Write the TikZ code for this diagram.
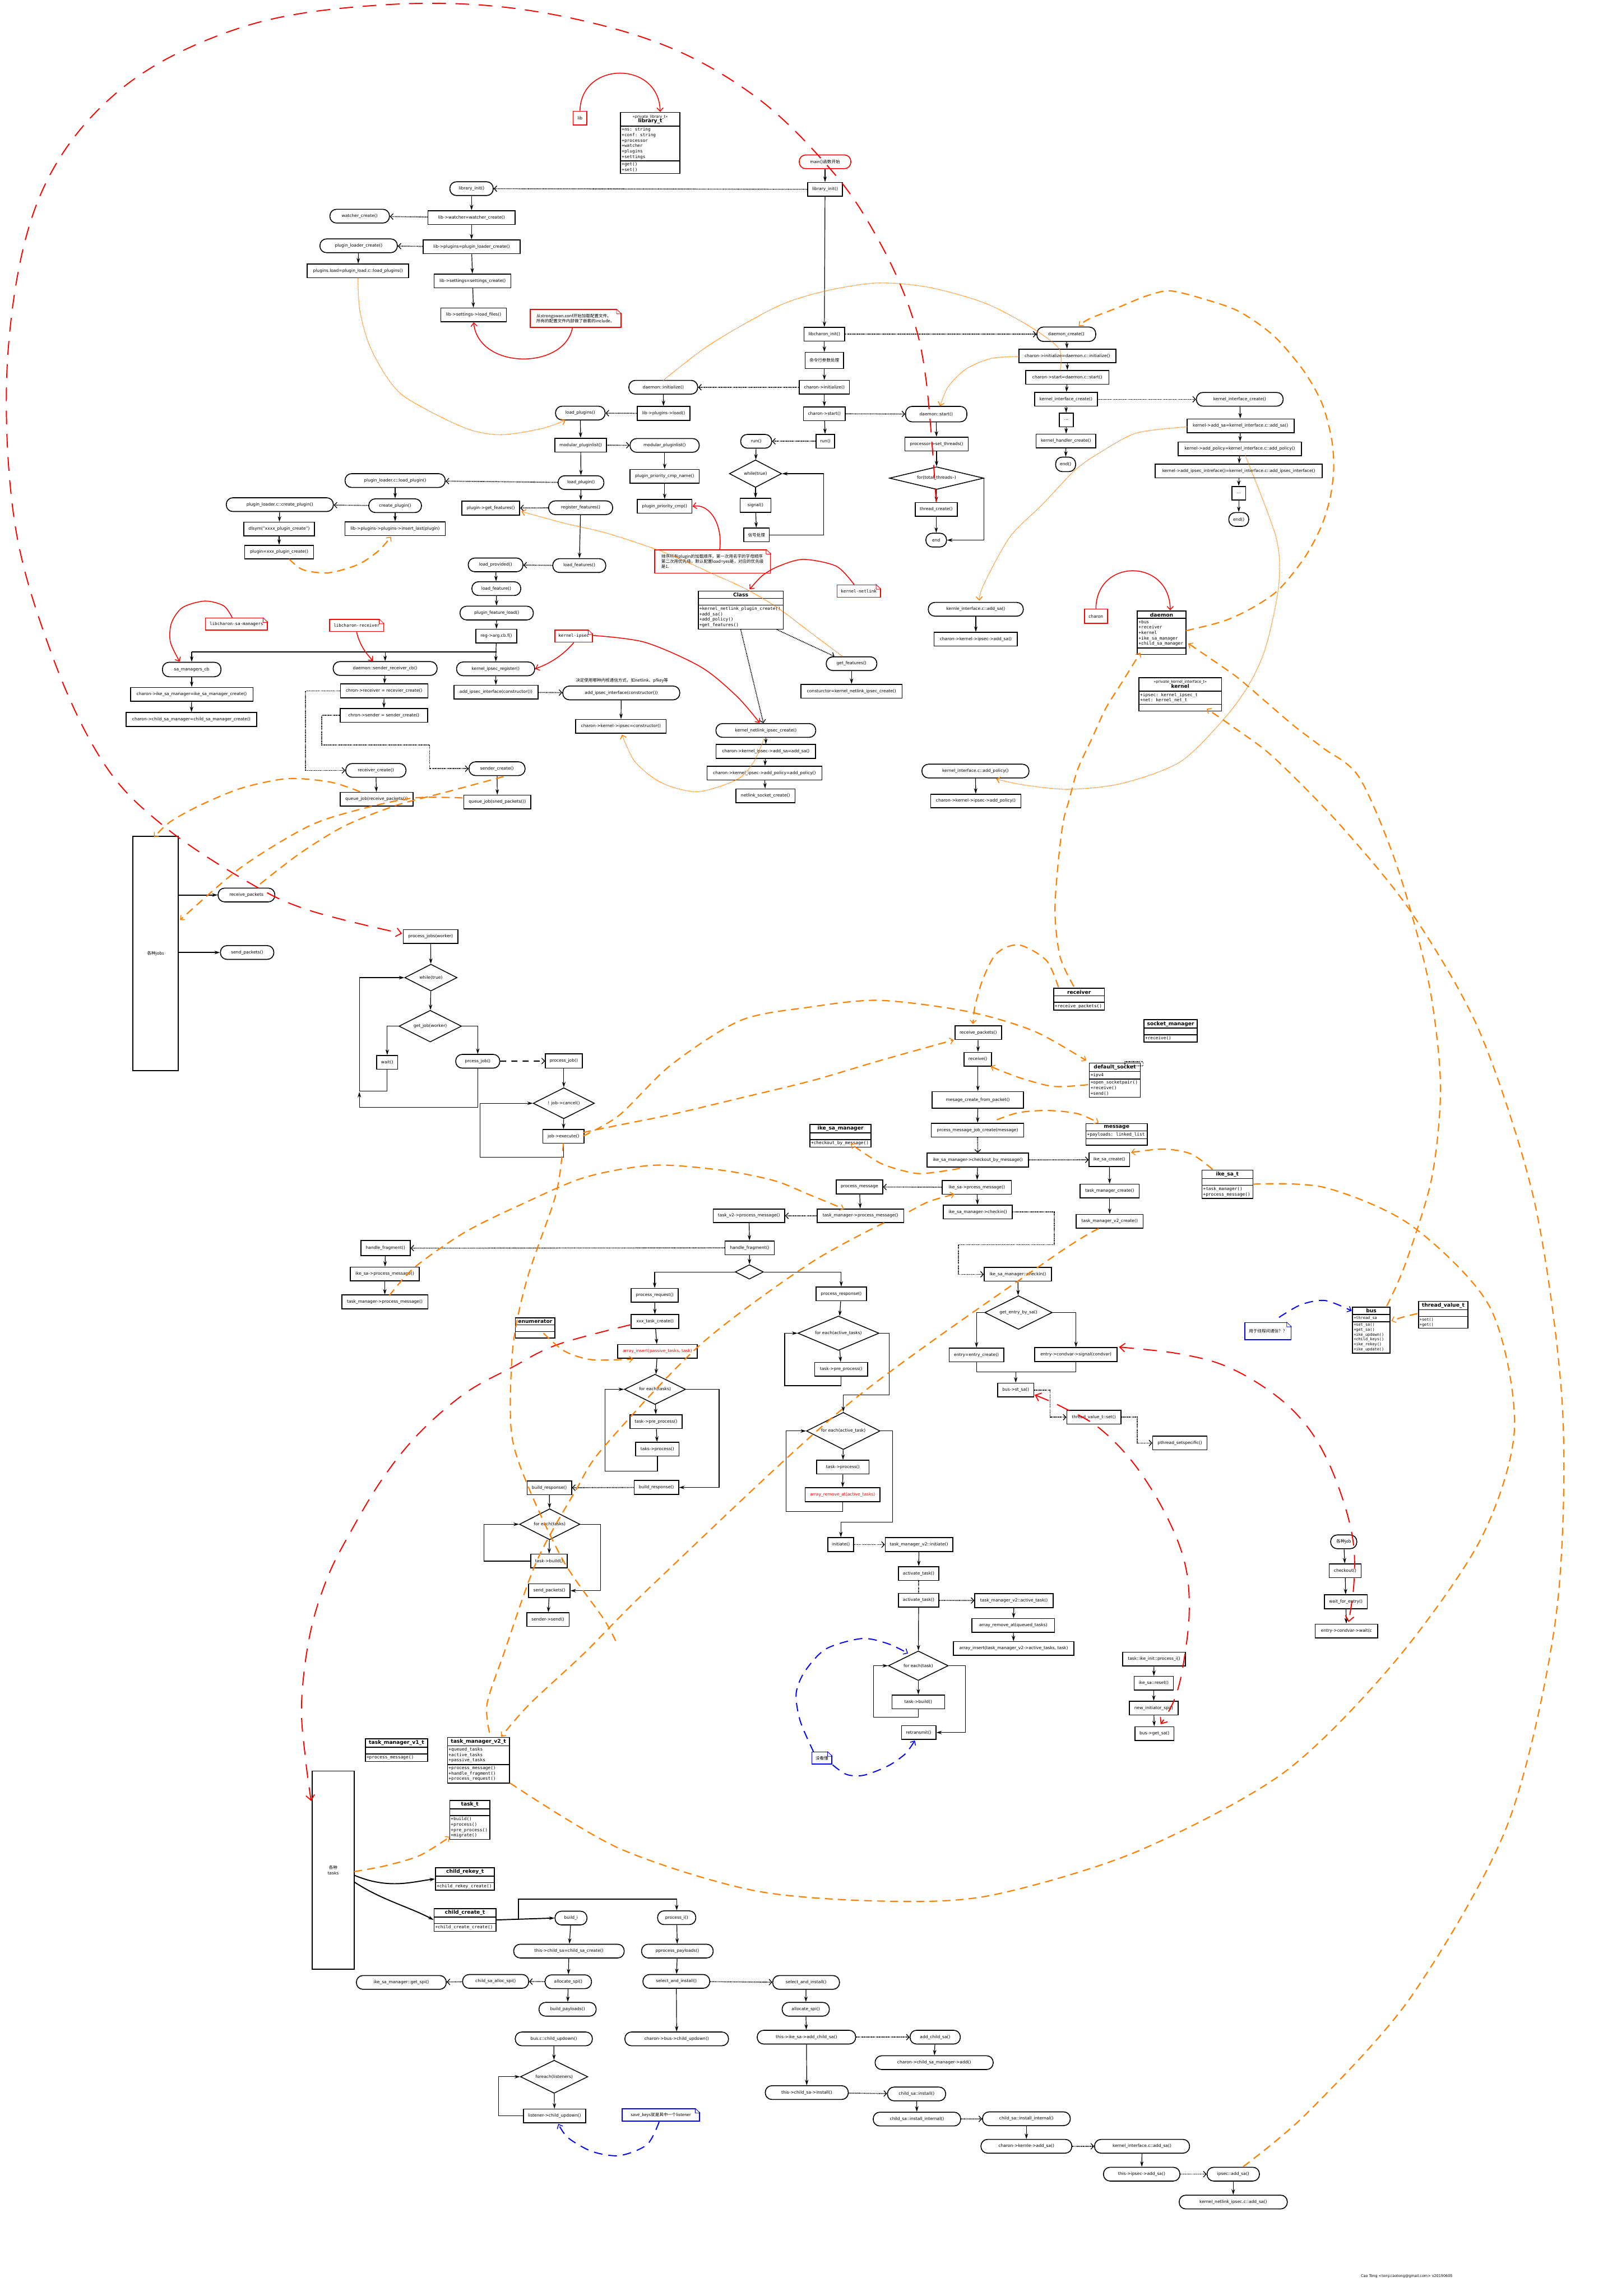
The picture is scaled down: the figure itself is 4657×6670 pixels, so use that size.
\documentclass[tikz,border=0pt]{standalone}
\usepackage{fontspec}
\setmainfont{DejaVu Sans}
\setmonofont{DejaVu Sans Mono}
\newfontfamily\cjkfont{Noto Sans CJK SC}
\usetikzlibrary{arrows.meta,shapes.geometric,shapes.multipart}

\newcommand{\boxfont}{\fontsize{7}{8.5}\selectfont}
\newcommand{\umlfont}{\ttfamily\fontsize{7.2}{9}\selectfont}
\newcommand{\umlhead}[1]{{\rmfamily\bfseries\fontsize{8.5}{10}\selectfont #1}}
\newcommand{\umlster}[2]{\begin{tabular}{@{}c@{}}{\rmfamily\fontsize{6.2}{7.5}\selectfont <<#1>>}\\[-1pt]\umlhead{#2}\end{tabular}}
\newcommand{\notefold}[2]{%
  \fill[white] ([xshift=-0.28cm]#1.north east) -- ([xshift=0.06cm,yshift=0.06cm]#1.north east) -- ([yshift=-0.28cm,xshift=0.06cm]#1.north east) -- cycle;
  \draw[#2, line width=0.8pt, line join=round] ([xshift=-0.28cm]#1.north east) -- ([yshift=-0.28cm]#1.north east) -- ([yshift=-0.28cm,xshift=-0.28cm]#1.north east) -- cycle;}

\tikzset{
  pbox/.style={draw, fill=white, line width=1.5pt, minimum height=0.8cm, inner sep=2pt, font=\boxfont},
  rbox/.style={pbox, rounded corners=0.38cm},
  wd/.style={minimum width=#1*0.02cm},
  hgt/.style={minimum height=#1*0.02cm},
  dia/.style n args={3}{diamond, draw, fill=white, line width=1.4pt, inner sep=0pt, font=\boxfont,
    minimum width=#1*0.04cm, minimum height=#2*0.04cm, aspect=#3},
  uml/.style={rectangle split, rectangle split parts=3, draw, fill=white, line width=1.5pt,
    inner sep=2pt, align=left, font=\umlfont, rectangle split part align={center,left,left}, anchor=north},
  rnote/.style={pbox, draw=red, align=left, font=\cjkfont\boxfont},
  bnote/.style={pbox, draw=blue, align=left, font=\cjkfont\boxfont},
  redsq/.style={pbox, draw=red},
  conn/.style={draw, line width=1.1pt},
  arr/.style={conn, -{Stealth[length=0.32cm, width=0.2cm]}},
  darr/.style={draw, line width=1.5pt, densely dotted, -{Straight Barb[length=0.16cm, width=0.34cm, line width=1.2pt]}},
  dasharr/.style={draw, line width=2pt, dash pattern=on 0.35cm off 0.3cm, -{Straight Barb[length=0.16cm, width=0.34cm, line width=1.2pt]}},
  otip/.style={-{Straight Barb[length=0.2cm, width=0.36cm, line width=1.3pt]}},
  odash/.style={draw=orange, line width=2pt, dash pattern=on 0.46cm off 0.3cm},
  odot/.style={draw=orange, line width=1.2pt, densely dotted},
  rline/.style={draw=red, line width=1.4pt, -{Straight Barb[length=0.2cm, width=0.36cm, line width=1.3pt]}},
  rdash/.style={draw=red, line width=1.8pt, dash pattern=on 0.8cm off 0.55cm},
  bdash/.style={draw=blue, line width=1.8pt, dash pattern=on 0.5cm off 0.35cm},
}

\begin{document}
\begin{tikzpicture}[x=0.02cm, y=-0.02cm, >=Stealth]
\useasboundingbox (0,0) rectangle (4657,6670);

% Library initialisation
\node[redsq, wd=40] (lib) at (1685,343) {lib};
\node[uml, wd=172] (libt) at (1889,325) {\umlster{private\_library\_t}{library\_t}
  \nodepart{second}+ns: string\\+conf: string\\+processor\\+watcher\\+plugins\\+settings
  \nodepart{third}+get()\\+set()};
\node[rbox, draw=red, wd=150, font=\cjkfont\boxfont] (mainfn) at (2397,470) {main()函数开始};
\node[pbox, wd=101] (libinitb) at (2397,550) {library\_init()};
\node[rbox, wd=126] (libinit) at (1370,548) {library\_init()};
\node[pbox, wd=254] (watcherset) at (1370,632) {lib->watcher=watcher\_create()};
\node[rbox, wd=173] (watchercr) at (1045,628) {watcher\_create()};
\node[pbox, wd=282] (pluginsset) at (1370,717) {lib->plugins=plugin\_loader\_create()};
\node[rbox, wd=225] (loadercr) at (1042,714) {plugin\_loader\_create()};
\node[pbox, wd=295] (pluginsload) at (1040,787) {plugins.load=plugin\_load.c::load\_plugins()};
\node[pbox, wd=223] (settingsset) at (1373,816) {lib->settings=settings\_create()};
\node[pbox, wd=190] (loadfiles) at (1376,915) {lib->settings->load\_files()};
\node[rnote, wd=264, hgt=52] (confnote) at (1672,925) {从strongswan.conf开始加载配置文件。\\所有的配置文件内部做了嵌套的include。};

% libcharon and daemon
\node[pbox, wd=118] (charoninit) at (2395,971) {libcharon\_init()};
\node[pbox, wd=112, hgt=47, font=\cjkfont\boxfont] (cmdline) at (2395,1047) {命令行参数处理};
\node[pbox, wd=146] (charoninitz) at (2395,1125) {charon->initialize()};
\node[pbox, wd=122] (charonstart) at (2395,1202) {charon->start()};
\node[pbox, wd=54] (runb) at (2398,1282) {run()};
\node[rbox, wd=90] (runr) at (2197,1282) {run()};
\node[dia={76}{40}{1.9}] (whiletrue) at (2195,1376) {while(true)};
\node[pbox, wd=90] (signal) at (2195,1468) {signal()};
\node[pbox, wd=74, font=\cjkfont\boxfont] (sighandle) at (2198,1554) {信号处理};
\node[rbox, wd=200] (daemoninit) at (1927,1125) {daemon::initialize()};
\node[rbox, wd=178, hgt=45] (daemonstart) at (2720,1203) {daemon::start()};
\node[pbox, wd=184] (setthreads) at (2721,1290) {processor->set\_threads()};
\node[dia={137}{33}{4.15}] (threadloop) at (2721,1389) {for(total\_threads--)};
\node[pbox, wd=122] (threadcr) at (2720,1480) {thread\_create()};
\node[rbox, wd=60] (threadend) at (2720,1569) {end};
\node[rbox, wd=171, hgt=42] (daemoncr) at (3098,971) {daemon\_create()};
\node[pbox, wd=282] (initset) at (3101,1034) {charon->initialize=daemon.c::initialize()};
\node[pbox, wd=242] (startset) at (3101,1096) {charon->start=daemon.c::start()};
\node[pbox, wd=182] (kifcrb) at (3097,1160) {kernel\_interface\_create()};
\node[pbox, wd=40] (dotsa) at (3098,1220) {...};
\node[pbox, wd=174] (khandler) at (3097,1281) {kernel\_handler\_create()};
\node[rbox, wd=58, hgt=42] (enda) at (3096,1349) {end()};
\node[rbox, wd=252] (kifcr) at (3602,1160) {kernel\_interface\_create()};
\node[pbox, wd=311] (addsaset) at (3604,1237) {kernel->add\_sa=kernel\_interface.c::add\_sa()};
\node[pbox, wd=358] (addpolset) at (3602,1304) {kernel->add\_policy=kernel\_interface.c::add\_policy()};
\node[pbox, wd=485] (addifset) at (3599,1368) {kernel->add\_ipsec\_intreface()=kernel\_interface.c::add\_ipsec\_interface()};
\node[pbox, wd=40] (dotsb) at (3599,1433) {...};
\node[rbox, wd=58] (endb) at (3599,1509) {end()};

% Plugin loading
\node[pbox, wd=153] (pluginsld) at (1928,1201) {lib->plugins->load()};
\node[rbox, wd=144] (loadplugins) at (1686,1200) {load\_plugins()};
\node[pbox, wd=149] (modlistb) at (1687,1293) {modular\_pluginlist()};
\node[rbox, wd=201] (modlist) at (1931,1294) {modular\_pluginlist()};
\node[pbox, wd=201] (prioname) at (1931,1384) {plugin\_priority\_cmp\_name()};
\node[pbox, wd=159] (priocmp) at (1931,1471) {plugin\_priority\_cmp()};
\node[rbox, wd=133] (loadplugin) at (1688,1402) {load\_plugin()};
\node[rbox, wd=291] (loaderload) at (1148,1396) {plugin\_loader.c::load\_plugin()};
\node[rbox, wd=153] (createplugin) at (1148,1469) {create\_plugin()};
\node[rbox, wd=311] (loadercreate) at (813,1466) {plugin\_loader.c::create\_plugin()};
\node[pbox, wd=205] (dlsym) at (811,1537) {dlsym("xxxx\_plugin\_create")};
\node[pbox, wd=200] (plugincr) at (811,1604) {plugin=xxx\_plugin\_create()};
\node[pbox, wd=291] (insertlast) at (1148,1536) {lib->plugins->plugins->insert\_last(plugin)};
\node[rbox, wd=186] (regfeat) at (1687,1475) {register\_features()};
\node[pbox, wd=168] (getfeatb) at (1426,1476) {plugin->get\_features()};
\node[rbox, wd=154] (loadfeats) at (1683,1643) {load\_features()};
\node[rbox, wd=159] (loadprov) at (1440,1641) {load\_provided()};
\node[rbox, wd=142] (loadfeat) at (1442,1710) {load\_feature()};
\node[rbox, wd=213] (featload) at (1443,1781) {plugin\_feature\_load()};
\node[pbox, wd=118] (regcb) at (1442,1848) {reg->arg.cb.f()};
\node[rnote, wd=337, hgt=68] (sortnote) at (2070,1631) {排序所有plugin的加载顺序，第一次用名字的字母顺序\\第二次用优先级，默认配置load=yes是，对应的优先级\\是1.};

% Kernel ipsec
\node[rbox, wd=227] (kipsecreg) at (1440,1943) {kernel\_ipsec\_register()};
\node[pbox, wd=244] (addipsecb) at (1441,2011) {add\_ipsec\_interface(constructor())};
\node[rbox, wd=340] (addipsec) at (1805,2013) {add\_ipsec\_interface(constructor())};
\node[font=\cjkfont\boxfont] (kcomment) at (1807,1977) {决定使用哪种内核通信方式，如netlink、pfkey等};
\node[pbox, wd=263] (ipsecset) at (1804,2110) {charon->kernel->ipsec=constructor()};
\node[rnote, wd=109, hgt=35, font=\ttfamily\boxfont] (kipsecnote) at (1667,1848) {kernel-ipsec};
\node[uml, wd=247] (classbox) at (2152,1716) {\umlhead{Class}
  \nodepart{second}
  \nodepart{third}+kernel\_netlink\_plugin\_create()\\+add\_sa()\\+add\_policy()\\+get\_features()};
\node[rnote, wd=126, hgt=36, font=\ttfamily\boxfont] (knetnote) at (2495,1717) {kernel-netlink};
\node[rbox, wd=147] (getfeat) at (2474,1928) {get\_features()};
\node[pbox, wd=294] (ctorset) at (2474,2008) {consturctor=kernel\_netlink\_ipsec\_create()};
\node[rbox, wd=290] (knlcreate) at (2225,2122) {kernel\_netlink\_ipsec\_create()};
\node[pbox, wd=289] (knladdsa) at (2225,2183) {charon->kernel\_ipsec->add\_sa=add\_sa()};
\node[pbox, wd=334] (knladdpol) at (2221,2246) {charon->kernel\_ipsec->add\_policy=add\_policy()};
\node[pbox, wd=172] (nlsock) at (2224,2312) {netlink\_socket\_create()};

% SA managers, sender and receiver
\node[rnote, wd=180, hgt=35, font=\ttfamily\boxfont] (samgrnote) at (687,1813) {libcharon-sa-managers};
\node[rnote, wd=157, hgt=35, font=\ttfamily\boxfont] (recvnote) at (1036,1817) {libcharon-receiver};
\node[rbox, wd=170, hgt=42] (samgrcb) at (557,1945) {sa\_managers\_cb};
\node[pbox, wd=356] (ikemgrset) at (557,2017) {charon->ike\_sa\_manager=ike\_sa\_manager\_create()};
\node[pbox, wd=380] (childmgrset) at (556,2090) {charon->child\_sa\_manager=child\_sa\_manager\_create()};
\node[rbox, wd=302] (srcb) at (1119,1942) {daemon::sender\_receiver\_cb()};
\node[pbox, wd=254] (recvset) at (1116,2007) {chron->receiver = recevier\_create()};
\node[pbox, wd=254] (sendset) at (1115,2078) {chron->sender = sender\_create()};
\node[rbox, wd=175] (recvcr) at (1092,2238) {receiver\_create()};
\node[pbox, wd=212] (qrecv) at (1094,2322) {queue\_job(receive\_packets())};
\node[rbox, wd=163] (sendcr) at (1444,2233) {sender\_create()};
\node[pbox, wd=195] (qsend) at (1445,2330) {queue\_job(sned\_packets())};

% Kernel interface and daemon class
\node[rbox, wd=276] (kaddsa) at (2835,1770) {kernle\_interface.c::add\_sa()};
\node[pbox, wd=242] (kipsecaddsa) at (2835,1857) {charon->kernel->ipsec->add\_sa()};
\node[redsq, wd=67, hgt=41] (charonbox) at (3184,1790) {charon};
\node[uml, wd=141] (daemonc) at (3375,1774) {\umlhead{daemon}
  \nodepart{second}+bus\\+receiver\\+kernel\\+ike\_sa\_manager\\+child\_sa\_manager
  \nodepart{third}};
\node[uml, wd=240] (kernelc) at (3429,1967) {\umlster{private\_kernel\_interface\_t}{kernel}
  \nodepart{second}+ipsec: kernel\_ipsec\_t\\+net: kernel\_net\_t
  \nodepart{third}};
\node[rbox, wd=311] (kaddpol) at (2834,2240) {kernel\_interface.c::add\_policy()};
\node[pbox, wd=262] (kipsecaddpol) at (2835,2327) {charon->kernel->ipsec->add\_policy()};

% Jobs and worker threads
\node[pbox, wd=132, hgt=680, font=\cjkfont\boxfont] (jobs) at (452,2770) {各种jobs};
\node[rbox, wd=165] (recvpk) at (716,2600) {receive\_packets};
\node[rbox, wd=155] (sendpk) at (718,2767) {send\_packets()};
\node[pbox, wd=159] (procjobs) at (1251,2721) {process\_jobs(worker)};
\node[dia={76}{39}{1.95}] (whilejob) at (1252,2840) {while(true)};
\node[dia={91}{46}{1.98}] (getjob) at (1250,2981) {get\_job(worker)};
\node[pbox, wd=61] (waitb) at (1125,3086) {wait()};
\node[rbox, wd=128] (prcjob) at (1388,3083) {prcess\_job()};
\node[pbox, wd=107, hgt=42] (procjob) at (1638,3082) {process\_job()};
\node[dia={89}{45}{1.98}] (cancel) at (1638,3205) {! job->cancel()};
\node[pbox, wd=120] (execute) at (1637,3301) {job->execute()};

% Receiving a message
\node[uml, wd=148] (recvc) at (3135,2870) {\umlhead{receiver}\nodepart{second}\nodepart{third}+receive\_packets()};
\node[uml, wd=155] (sockmgr) at (3401,2961) {\umlhead{socket\_manager}\nodepart{second}\nodepart{third}+receive()};
\node[pbox, wd=135] (recvpkb) at (2842,3000) {receive\_packets()};
\node[pbox, wd=80] (recvb) at (2841,3077) {receive()};
\node[pbox, wd=265, hgt=48] (msgcr) at (2841,3195) {mesage\_create\_from\_packet()};
\node[pbox, wd=269] (msgjob) at (2840,3283) {prcess\_message\_job\_create(message)};
\node[pbox, wd=295] (checkout) at (2841,3370) {ike\_sa\_manager->checkout\_by\_message()};
\node[pbox, wd=118] (ikesacr) at (3223,3369) {ike\_sa\_create()};
\node[pbox, wd=172] (tmcr) at (3224,3460) {task\_manager\_create()};
\node[pbox, wd=194] (tmv2cr) at (3224,3548) {task\_manager\_v2\_create()};
\node[pbox, wd=201] (ikesaproc) at (2838,3449) {ike\_sa->prcess\_message()};
\node[pbox, wd=135] (procmsg) at (2497,3448) {process\_message};
\node[pbox, wd=251] (tmproc) at (2500,3532) {task\_manager->process\_message()};
\node[pbox, wd=200] (checkin) at (2841,3521) {ike\_sa\_manager->checkin()};
\node[pbox, wd=195] (checkinb) at (2957,3702) {ike\_sa\_manager::checkin()};
\node[uml, wd=178] (ikemgrc) at (2442,3265) {\umlhead{ike\_sa\_manager}\nodepart{second}\nodepart{third}+checkout\_by\_message()};
\node[uml, wd=148] (dsock) at (3239,3087) {\umlhead{default\_socket}\nodepart{second}+ipv4\nodepart{third}+open\_socketpair()\\+receive()\\+send()};
\node[uml, wd=178] (msgc) at (3244,3263) {\umlhead{message}\nodepart{second}+payloads: linked\_list\nodepart{third}};
\node[uml, wd=148] (ikesat) at (3566,3398) {\umlhead{ike\_sa\_t}\nodepart{second}\nodepart{third}+task\_manager()\\+process\_message()};
\draw[line width=1.2pt, densely dotted] (3268,3084) rectangle (3321,3096);

% Task processing
\node[pbox, wd=208] (taskv2proc) at (2176,3532) {task\_v2->process\_message()};
\node[pbox, wd=143] (fragb) at (2178,3625) {handle\_fragment()};
\node[pbox, wd=143, hgt=44] (frag) at (1120,3626) {handle\_fragment()};
\node[pbox, wd=201] (ikesaproc2) at (1118,3701) {ike\_sa->process\_message()};
\node[pbox, wd=250] (tmproc2) at (1118,3782) {task\_manager->process\_message()};
\node[dia={41}{21}{1.95}] (reqresp) at (2177,3695) {};
\node[pbox, wd=136] (procreq) at (1902,3763) {process\_request()};
\node[pbox, wd=138] (xxxcr) at (1903,3839) {xxx\_task\_create()};
\node[pbox, wd=231, text=red] (passins) at (1910,3926) {array\_insert(passive\_tasks, task)};
\node[dia={89}{44}{2}] (foreacht) at (1903,4036) {for each(tasks)};
\node[pbox, wd=152] (preproc) at (1906,4130) {task->pre\_process()};
\node[pbox, wd=126] (taksproc) at (1910,4210) {taks->process()};
\node[pbox, wd=129] (buildresp) at (1907,4321) {build\_response()};
\node[pbox, wd=129] (buildrespb) at (1596,4322) {build\_response()};
\node[dia={88}{45}{1.96}] (foreachb) at (1597,4428) {for each(tasks)};
\node[pbox, wd=106] (taskbuild) at (1595,4535) {task->build()};
\node[pbox, wd=120] (sendpkb) at (1596,4621) {send\_packets()};
\node[pbox, wd=123] (sendersend) at (1592,4705) {sender->send()};
\node[uml, wd=115] (enumc) at (1555,3827) {\umlhead{enumerator}\nodepart{second}\nodepart{third}};
\node[pbox, wd=147] (procresp) at (2444,3759) {process\_response()};
\node[dia={118}{50}{2.36}] (foreachact) at (2436,3873) {for each(active\_tasks)};
\node[pbox, wd=154] (preprocb) at (2444,3978) {task->pre\_process()};
\node[dia={107}{54}{1.98}] (foreachact2) at (2450,4157) {for each(active\_task)};
\node[pbox, wd=152] (taskproc) at (2449,4262) {task->process()};
\node[pbox, wd=218, text=red] (actremove) at (2448,4342) {array\_remove\_at(active\_tasks)};
\node[pbox, wd=75] (initiate) at (2443,4487) {initiate()};
\node[pbox, wd=196] (tminit) at (2670,4487) {task\_manager\_v2::initiate()};
\node[pbox, wd=118] (acttask) at (2669,4571) {activate\_task()};
\node[pbox, wd=118] (acttaskb) at (2669,4649) {activate\_task()};
\node[pbox, wd=228] (tmact) at (2946,4650) {task\_manager\_v2::active\_task()};
\node[pbox, wd=240] (qremove) at (2944,4722) {array\_remove\_at(queued\_tasks)};
\node[pbox, wd=350] (actinsert) at (2945,4789) {array\_insert(task\_manager\_v2->active\_tasks, task)};
\node[dia={87}{43}{2.02}] (foreachtask) at (2668,4839) {for each(task)};
\node[pbox, wd=153] (taskbuildb) at (2668,4944) {task->build()};
\node[pbox, wd=100] (retrans) at (2669,5033) {retransmit()};
\node[bnote, wd=58, hgt=35] (dontget) at (2388,5107) {没看懂};

% Check in and the bus
\node[dia={98}{49}{2}] (getentry) at (2959,3813) {get\_entry\_by\_sa()};
\node[pbox, wd=159] (entrycr) at (2837,3936) {entry=entry\_create()};
\node[pbox, wd=239] (entrysig) at (3126,3935) {entry->condvar->signal(condvar)};
\node[pbox, wd=105] (busset) at (2951,4038) {bus->st\_sa()};
\node[pbox, wd=157] (tvset) at (3178,4117) {thread\_value\_t::set()};
\node[pbox, wd=158] (pthreadset) at (3428,4192) {pthread\_setspecific()};
\node[uml, wd=109, font=\ttfamily\fontsize{6.4}{8}\selectfont] (busc) at (3984,3796) {\umlhead{bus}
  \nodepart{second}+thread\_sa
  \nodepart{third}+set\_sa()\\+get\_sa()\\+ike\_updown()\\+child\_keys()\\+ike\_rekey()\\+ike\_update()};
\node[uml, wd=144, font=\ttfamily\fontsize{6.4}{8}\selectfont] (tvc) at (4193,3779) {\umlhead{thread\_value\_t}\nodepart{second}\nodepart{third}+set()\\+get()};
\node[bnote, wd=134, hgt=50] (threadnote) at (3684,3867) {用于线程间通信？？};
\node[rbox, wd=76, font=\cjkfont\boxfont] (anyjob) at (3904,4479) {各种job};
\node[pbox, wd=93] (checkoutb) at (3908,4563) {checkout()};
\node[pbox, wd=125] (waitentry) at (3910,4653) {wait\_for\_entry()};
\node[pbox, wd=182] (condwait) at (3912,4738) {entry->condvar->wait(c};
\node[pbox, wd=183] (ikeinit) at (3353,4820) {task::ike\_init::process\_i()};
\node[pbox, wd=114] (ikereset) at (3352,4890) {ike\_sa::reset()};
\node[pbox, wd=142] (newspi) at (3352,4962) {new\_initiator\_spi()};
\node[pbox, wd=113] (busget) at (3354,5036) {bus->get\_sa()};

% Task classes and child SA creation
\node[uml, wd=181] (tmv1c) at (1152,5050) {\umlhead{task\_manager\_v1\_t}\nodepart{second}\nodepart{third}+process\_message()};
\node[uml, wd=180] (tmv2c) at (1390,5046) {\umlhead{task\_manager\_v2\_t}
  \nodepart{second}+queued\_tasks\\+active\_tasks\\+passive\_tasks
  \nodepart{third}+process\_message()\\+handle\_fragment()\\+process\_request()};
\node[uml, wd=117] (taskc) at (1365,5229) {\umlhead{task\_t}\nodepart{second}\nodepart{third}+build()\\+process()\\+pre\_process()\\+migrate()};
\node[pbox, wd=122, hgt=576, align=center] (tasks) at (968,5433) {{\cjkfont 各种}\\tasks};
\node[uml, wd=171] (rekeyc) at (1351,5424) {\umlhead{child\_rekey\_t}\nodepart{second}\nodepart{third}+child\_rekey\_create()};
\node[uml, wd=180] (createc) at (1351,5543) {\umlhead{child\_create\_t}\nodepart{second}\nodepart{third}+child\_create\_create()};
\node[rbox, wd=93] (buildi) at (1659,5572) {build\_i};
\node[rbox, wd=111] (processi) at (1966,5571) {process\_i()};
\node[rbox, wd=321] (childsacr) at (1653,5668) {this->child\_sa=child\_sa\_create()};
\node[rbox, wd=208] (procpay) at (1968,5668) {pprocess\_payloads()};
\node[rbox, wd=135] (allocspi) at (1651,5757) {allocate\_spi()};
\node[rbox, wd=192] (allocspib) at (1440,5756) {child\_sa\_alloc\_spi()};
\node[rbox, wd=261] (getspi) at (1166,5759) {ike\_sa\_manager::get\_spi()};
\node[rbox, wd=166] (buildpay) at (1649,5837) {build\_payloads()};
\node[rbox, wd=194] (selinst) at (1965,5756) {select\_and\_install()};
\node[rbox, wd=194] (selinstb) at (2342,5759) {select\_and\_install()};
\node[rbox, wd=301] (busupdown) at (1966,5923) {charon->bus->child\_updown()};
\node[rbox, wd=224] (busupdownb) at (1609,5923) {bus.c::child\_updown()};
\node[dia={98}{48}{2.04}] (listeners) at (1610,6033) {foreach(listeners)};
\node[pbox, wd=181] (listenerup) at (1611,6147) {listener->child\_updown()};
\node[bnote, wd=225, hgt=36] (savekeys) at (1920,6144) {save\_keys就是其中一个listener};
\node[rbox, wd=137] (allocspic) at (2341,5837) {allocate\_spi()};
\node[rbox, wd=286] (addchild) at (2343,5918) {this->ike\_sa->add\_child\_sa()};
\node[rbox, wd=146] (addchildb) at (2717,5918) {add\_child\_sa()};
\node[rbox, wd=343] (childmgradd) at (2714,5992) {charon->child\_sa\_manager->add()};
\node[rbox, wd=241] (install) at (2344,6079) {this->child\_sa->install()};
\node[rbox, wd=169] (installb) at (2663,6083) {child\_sa::install()};
\node[rbox, wd=254] (instint) at (2664,6156) {child\_sa::install\_internal()};
\node[rbox, wd=255] (instintb) at (2982,6155) {child\_sa::install\_internal()};
\node[rbox, wd=264] (kernleaddsa) at (2982,6235) {charon->kernle->add\_sa()};
\node[rbox, wd=276] (kifaddsa) at (3318,6235) {kernel\_interface.c::add\_sa()};
\node[rbox, wd=222] (ipsecaddsa) at (3317,6316) {this->ipsec->add\_sa()};
\node[rbox, wd=152] (ipsecaddsab) at (3583,6316) {ipsec::add\_sa()};
\node[rbox, wd=314] (knladd) at (3583,6397) {kernel\_netlink\_ipsec.c::add\_sa()};
\node[font=\fontsize{6}{7}\selectfont] (footer) at (4087,6613) {Cao Tong <tony.caotong@gmail.com> v20190605};

% Note corners
\notefold{confnote}{red}
\notefold{sortnote}{red}
\notefold{kipsecnote}{red}
\notefold{knetnote}{red}
\notefold{samgrnote}{red}
\notefold{recvnote}{red}
\notefold{threadnote}{blue}
\notefold{dontget}{blue}
\notefold{savekeys}{blue}

% Lines: start-up
\draw[arr] (mainfn) -- (libinitb);
\draw[darr] (libinitb) -- (libinit);
\draw[arr] (libinit) -- (watcherset);
\draw[darr] (watcherset) -- (watchercr);
\draw[arr] (watcherset) -- (pluginsset);
\draw[darr] (pluginsset) -- (loadercr);
\draw[arr] (loadercr) -- (pluginsload);
\draw[arr] (pluginsset) -- (settingsset);
\draw[arr] (settingsset) -- (loadfiles);
\draw[arr] (libinitb) -- (charoninit);
\draw[arr] (charoninit) -- (cmdline);
\draw[arr] (cmdline) -- (charoninitz);
\draw[arr] (charoninitz) -- (charonstart);
\draw[arr] (charonstart) -- (runb);
\draw[darr] (charoninit) -- (daemoncr);
\draw[darr] (charoninitz) -- (daemoninit);
\draw[darr] (charonstart) -- (daemonstart);
\draw[darr] (runb) -- (runr);
\draw[arr] (runr) -- (whiletrue);
\draw[arr] (whiletrue) -- (signal);
\draw[arr] (signal) -- (sighandle);
\draw[arr] (sighandle.east) -- ([xshift=3.14cm]sighandle.east) |- (whiletrue.east);
\draw[arr] (daemonstart) -- (setthreads);
\draw[arr] (setthreads) -- (threadloop);
\draw[arr] (threadloop) -- (threadcr);
\draw[arr] (threadcr) -- (threadend);
\draw[arr] (threadloop.east) |- (threadend.east);
\draw[arr] (daemoncr) -- (initset);
\draw[arr] (initset) -- (startset);
\draw[arr] (startset) -- (kifcrb);
\draw[arr] (kifcrb) -- (dotsa);
\draw[arr] (dotsa) -- (khandler);
\draw[arr] (khandler) -- (enda);
\draw[darr] (kifcrb) -- (kifcr);
\draw[arr] (kifcr) -- (addsaset);
\draw[arr] (addsaset) -- (addpolset);
\draw[arr] (addpolset) -- (addifset);
\draw[arr] (addifset) -- (dotsb);
\draw[arr] (dotsb) -- (endb);

% Lines: plugins
\draw[arr] (daemoninit) -- (pluginsld);
\draw[darr] (pluginsld) -- (loadplugins);
\draw[arr] (loadplugins) -- (modlistb);
\draw[darr] (modlistb) -- (modlist);
\draw[arr] (modlist) -- (prioname);
\draw[arr] (prioname) -- (priocmp);
\draw[arr] (modlistb) -- (loadplugin);
\draw[darr] (loadplugin) -- (loaderload);
\draw[arr] (loaderload) -- (createplugin);
\draw[darr] (createplugin) -- (loadercreate);
\draw[arr] (createplugin) -- (insertlast);
\draw[arr] (loadercreate) -- (dlsym);
\draw[arr] (dlsym) -- (plugincr);
\draw[arr] (loadplugin) -- (regfeat);
\draw[darr] (regfeat) -- (getfeatb);
\draw[arr] (regfeat) -- (loadfeats);
\draw[darr] (loadfeats) -- (loadprov);
\draw[arr] (loadprov) -- (loadfeat);
\draw[arr] (loadfeat) -- (featload);
\draw[arr] (featload) -- (regcb);
\coordinate (regsplit) at (1442,1894);
\draw[arr] (regcb) -- (kipsecreg);
\draw[line width=2pt] (regsplit) -- (samgrcb.north |- regsplit);
\draw[arr] (samgrcb.north |- regsplit) -- (samgrcb.north);
\draw[arr] (srcb.north |- regsplit) -- (srcb.north);
\draw[arr] (kipsecreg) -- (addipsecb);
\draw[darr] (addipsecb) -- (addipsec);
\draw[arr] (addipsec) -- (ipsecset);
\draw[darr] (classbox.south) -- ([xshift=-0.14cm]knlcreate.north);
\draw[darr] ([xshift=-0.4cm]classbox.south east) -- ([xshift=0.5cm]getfeat.north west);
\draw[arr] (getfeat) -- (ctorset);
\draw[arr] (knlcreate) -- (knladdsa);
\draw[arr] (knladdsa) -- (knladdpol);
\draw[arr] (knladdpol) -- (nlsock);

% Lines: managers, sender and receiver
\draw[arr] (samgrcb) -- (ikemgrset);
\draw[arr] (ikemgrset) -- (childmgrset);
\draw[arr] (srcb) -- (recvset);
\draw[arr] (recvset) -- (sendset);
\draw[darr] (recvset.west) -- ([xshift=-2cm]recvset.west) |- (recvcr.west);
\draw[darr] (sendset.west) -- ([xshift=-1.04cm]sendset.west) -- ([xshift=-1.04cm, yshift=-1.72cm]sendset.west) -| ([xshift=-2.26cm]sendcr.west) -- (sendcr.west);
\draw[arr] (recvcr) -- (qrecv);
\draw[arr] (sendcr) -- (qsend);
\draw[arr] (kaddsa) -- (kipsecaddsa);
\draw[arr] (kaddpol) -- (kipsecaddpol);

% Lines: jobs
\draw[arr, line width=1.6pt] (jobs.east |- recvpk.west) -- (recvpk.west);
\draw[arr, line width=1.6pt] (jobs.east |- sendpk.west) -- (sendpk.west);
\draw[arr] (procjobs) -- (whilejob);
\draw[arr] (whilejob) -- (getjob);
\draw[arr] (getjob.west) -| (waitb.north);
\draw[arr] (getjob.east) -| (prcjob.north);
\coordinate (jobloop) at (1044,3170);
\draw[arr] (prcjob.south) |- ([yshift=-0.94cm]jobloop) -- ([yshift=-0.04cm]jobloop);
\draw[arr] (waitb.south) |- (jobloop) |- (whilejob.west);
\draw[dasharr] (prcjob) -- (procjob);
\draw[arr] (procjob) -- (cancel);
\draw[arr] (cancel) -- (execute);
\draw[arr] (execute.south) -- ([yshift=-0.78cm]execute.south) -| ([xshift=-3.06cm]cancel.west) -- (cancel.west);

% Lines: message receive
\draw[arr] (recvpkb) -- (recvb);
\draw[arr] (recvb) -- (msgcr);
\draw[arr] (msgcr) -- (msgjob);
\draw[darr] (msgjob) -- (checkout);
\draw[darr] (checkout) -- (ikesacr);
\draw[arr] (ikesacr) -- (tmcr);
\draw[arr] (tmcr) -- (tmv2cr);
\draw[arr] (checkout) -- (ikesaproc);
\draw[darr] (ikesaproc) -- (procmsg);
\draw[arr] (procmsg) -- (tmproc);
\draw[arr] (ikesaproc) -- (checkin);
\draw[darr] (checkin.east) -- ++(2.42cm,0) -- ++(0,-1.9cm) -- ++(-5.58cm,0) |- (checkinb.west);
\draw[darr] (tmproc) -- (taskv2proc);
\draw[arr] (taskv2proc) -- (fragb);
\draw[darr] (fragb) -- (frag);
\draw[arr] (frag) -- (ikesaproc2);
\draw[arr] (ikesaproc2) -- (tmproc2);
\draw[arr] (fragb) -- (reqresp);
\draw[arr] (reqresp.west) -| (procreq.north);
\draw[arr] (reqresp.east) -| (procresp.north);

% Lines: requests
\draw[arr] (procreq) -- (xxxcr);
\draw[arr] (xxxcr) -- (passins);
\draw[arr] (passins) -- (foreacht);
\draw[arr] (foreacht) -- (preproc);
\draw[arr] (preproc) -- (taksproc);
\draw[arr] (taksproc.south) -- ++(0,-0.86cm) -| ([xshift=-1.1cm]foreacht.west) -- (foreacht.west);
\draw[arr] (foreacht.east) -- ++(1.92cm,0) |- (buildresp.east);
\draw[darr] (buildresp) -- (buildrespb);
\draw[arr] (buildrespb) -- (foreachb);
\draw[arr] (foreachb) -- (taskbuild);
\draw[arr] (taskbuild.west) -- ++(-2.7cm,0) |- (foreachb.west);
\draw[arr] (foreachb.east) -- ++(1.16cm,0) |- (sendpkb.east);
\draw[arr] (sendpkb) -- (sendersend);

% Lines: responses
\draw[arr] (procresp) -- (foreachact);
\draw[arr] (foreachact) -- (preprocb);
\draw[arr] (preprocb.south) -- ++(0,-0.52cm) -| ([xshift=-0.74cm]foreachact.west) -- (foreachact.west);
\draw[arr] (foreachact.east) -- ++(0.56cm,0) |- ([yshift=1cm]foreachact2.north) -- (foreachact2.north);
\draw[arr] (foreachact2) -- (taskproc);
\draw[arr] (taskproc) -- (actremove);
\draw[arr] (actremove.south) -- ++(0,-0.56cm) -| ([xshift=-1.16cm]foreachact2.west) -- (foreachact2.west);
\draw[arr] (foreachact2.east) -- ++(0.7cm,0) |- ([yshift=0.88cm]initiate.north) -- (initiate.north);
\draw[darr] (initiate) -- (tminit);
\draw[arr] (tminit) -- (acttask);
\draw[line width=1.4pt, densely dotted] (acttask) -- (acttaskb);
\draw[darr] (acttaskb) -- (tmact);
\draw[arr] (tmact) -- (qremove);
\draw[arr] (qremove) -- (actinsert);
\draw[arr] (acttaskb) -- (foreachtask);
\draw[arr] (foreachtask) -- (taskbuildb);
\draw[arr] (taskbuildb.south) -- ++(0,-0.46cm) -| ([xshift=-0.84cm]foreachtask.west) -- (foreachtask.west);
\draw[arr] (foreachtask.east) -- ++(0.98cm,0) |- (retrans.east);

% Lines: checkin
\draw[arr] (checkinb) -- (getentry);
\draw[arr] (getentry.west) -| (entrycr.north);
\draw[arr] (getentry.east) -| (entrysig.north);
\coordinate (entryjoin) at (2951,3985);
\draw[conn] (entrycr.south) |- (entryjoin) -| (entrysig.south);
\draw[arr] (entryjoin) -- (busset.north);
\draw[darr] (busset.east) -- ++(0.92cm,0) |- (tvset.west);
\draw[darr] (tvset.east) -- ++(0.92cm,0) |- (pthreadset.west);
\draw[arr] (anyjob) -- (checkoutb);
\draw[arr] (checkoutb) -- (waitentry);
\draw[arr] (waitentry) -- (condwait);
\draw[arr] (ikeinit) -- (ikereset);
\draw[arr] (ikereset) -- (newspi);
\draw[arr] (newspi) -- (busget);

% Lines: child SA
\draw[arr, line width=1.8pt] ([yshift=-0.3cm]tasks.east) .. controls (1130,5490) and (1200,5466) .. (rekeyc.west);
\draw[arr, line width=1.8pt] ([yshift=-0.7cm]tasks.east) .. controls (1110,5520) and (1190,5540) .. (createc.west);
\draw[arr, line width=1.8pt] (createc.east) -- (buildi.west);
\draw[arr, line width=1.4pt] ([xshift=1.28cm]createc.east) |- ([yshift=0.66cm]processi.north) -- (processi.north);
\draw[arr] (buildi) -- (childsacr);
\draw[arr] (childsacr) -- (allocspi);
\draw[arr] (allocspi) -- (buildpay);
\draw[darr] (allocspi) -- (allocspib);
\draw[darr] (allocspib) -- (getspi);
\draw[arr] (processi) -- (procpay);
\draw[arr] (procpay) -- (selinst);
\draw[arr] (selinst) -- (busupdown);
\draw[darr] (selinst) -- (selinstb);
\draw[arr] (selinstb) -- (allocspic);
\draw[arr] (allocspic) -- (addchild);
\draw[arr] (addchild) -- (install);
\draw[darr] (addchild) -- (addchildb);
\draw[arr] (addchildb) -- (childmgradd);
\draw[darr] (install) -- (installb);
\draw[arr] (installb) -- (instint);
\draw[darr] (instint) -- (instintb);
\draw[arr] (instintb) -- (kernleaddsa);
\draw[darr] (kernleaddsa) -- (kifaddsa);
\draw[arr] (kifaddsa) -- (ipsecaddsa);
\draw[darr] (ipsecaddsa) -- (ipsecaddsab);
\draw[arr] (ipsecaddsab) -- (knladd);
\draw[arr] (busupdownb) -- (listeners);
\draw[arr] (listeners) -- (listenerup);
\draw[arr] (listenerup.west) -- ++(-1.42cm,0) |- (listeners.west);

% Red references
\draw[rline] (lib.north) .. controls (1688,176) and (1915,176) .. (1918,325);
\draw[rline] ([xshift=-0.18cm]confnote.south) .. controls (1640,1075) and (1390,1075) .. (loadfiles.south);
\draw[rline] ([xshift=0.42cm]sortnote.north) .. controls (2100,1520) and (2060,1462) .. (priocmp.east);
\draw[rline] plot[smooth] coordinates {(2482,1699) (2430,1645) (2334,1625) (2262,1645) (2215,1672) (2178,1712)};
\draw[rline] (kipsecnote.south) .. controls (1630,1910) and (1590,1930) .. (kipsecreg.east);
\draw[rline] plot[smooth] coordinates {(1723,1846) (1874,1866) (2037,1938) (2142,2024) (2207,2100)};
\draw[rline] plot[smooth] coordinates {(675,1795) (650,1760) (595,1746) (530,1765) (498,1810) (495,1865) (522,1922)};
\draw[rline] (recvnote.south) .. controls (1045,1875) and (1065,1900) .. (1084,1920);
\draw[rline] (charonbox.north) .. controls (3185,1621) and (3398,1621) .. (3400,1773);
\draw[rdash, -{Straight Barb[length=0.3cm, width=0.5cm, line width=1.6pt]}] plot[smooth, tension=0.6] coordinates {(2720,1458) (2690,1100) (2644,900) (2550,693) (2420,500) (2194,280) (1900,120) (1500,25) (1100,15) (700,80) (350,260) (120,560) (25,1000) (40,1500) (150,1900) (300,2215) (476,2400) (727,2566) (900,2645) (1168,2712)};
\draw[rdash, -{Straight Barb[length=0.3cm, width=0.5cm, line width=1.6pt]}] plot[smooth, tension=0.6] coordinates {(1834,3848) (1620,3906) (1486,3973) (1352,4047) (1218,4163) (1111,4296) (1017,4453) (950,4586) (900,4750) (876,4950) (888,5113) (904,5232)};
\draw[rdash, {Straight Barb[length=0.3cm, width=0.5cm, line width=1.6pt]}-{Straight Barb[length=0.3cm, width=0.5cm, line width=1.6pt]}] plot[smooth, tension=0.6] coordinates {(3251,3913) (3448,3937) (3576,3975) (3704,4052) (3793,4138) (3857,4243) (3908,4377) (3933,4492) (3933,4607) (3918,4712)};
\draw[rdash, {Straight Barb[length=0.3cm, width=0.5cm, line width=1.6pt]}-{Straight Barb[length=0.3cm, width=0.5cm, line width=1.6pt]}] plot[smooth, tension=0.6] coordinates {(3006,4052) (3091,4090) (3193,4148) (3295,4253) (3385,4396) (3442,4540) (3455,4684) (3436,4846) (3410,4942) (3372,5009)};

% Blue references
\draw[bdash, otip] plot[smooth] coordinates {(3716,3827) (3780,3790) (3850,3778) (3927,3808)};
\draw[bdash, otip] plot[smooth] coordinates {(2364,5090) (2325,5000) (2313,4920) (2338,4856) (2400,4790) (2504,4760) (2580,4775) (2638,4803)};
\draw[bdash, otip] plot[smooth] coordinates {(2419,5127) (2460,5155) (2510,5157) (2580,5130) (2630,5095) (2658,5056)};
\draw[bdash, otip] plot[smooth] coordinates {(1915,6164) (1880,6230) (1800,6262) (1720,6250) (1650,6210) (1622,6170)};

% Orange dotted references
\draw[odot, otip] plot[smooth] coordinates {(1040,807) (1045,900) (1072,1000) (1120,1090) (1172,1150) (1276,1209) (1370,1250) (1459,1263) (1574,1245) (1643,1221)};
\draw[odot] plot[smooth] coordinates {(1927,1105) (2064,1000) (2259,890) (2400,845) (2550,822) (2700,835) (2860,880) (2986,945) (3076,1012) (3080,1076)};
\draw[odot, otip] plot[smooth] coordinates {(2960,1036) (2881,1041) (2808,1071) (2755,1123) (2731,1180)};
\draw[odot, otip] plot[smooth] coordinates {(3449,1240) (3302,1258) (3197,1314) (3123,1366) (3028,1466) (2934,1560) (2857,1700) (2845,1745)};
\draw[odot, otip] plot[smooth] coordinates {(3618,1324) (3707,1560) (3715,1700) (3678,1878) (3628,1990) (3553,2092) (3429,2213) (3263,2275) (3106,2293) (2973,2280) (2894,2263)};
\draw[odot, otip] plot[smooth] coordinates {(2448,1907) (2353,1836) (2257,1764) (2161,1708) (2066,1665) (1990,1630) (1907,1596) (1760,1548) (1640,1520) (1515,1486)};
\draw[odot, otip] plot[smooth] coordinates {(2219,2147) (2190,2213) (2142,2264) (2027,2300) (1922,2274) (1845,2213) (1807,2134)};

% Orange dashed references
\draw[odash, otip] plot[smooth] coordinates {(3446,1832) (3553,1805) (3636,1767) (3715,1713) (3790,1620) (3838,1531) (3865,1444) (3875,1357) (3868,1271) (3840,1170) (3786,1075) (3700,975) (3600,905) (3502,870) (3400,845) (3330,860) (3249,893) (3165,926) (3134,947)};
\draw[odash, otip] plot[smooth] coordinates {(3120,2866) (3080,2780) (3065,2650) (3075,2500) (3089,2387) (3106,2324) (3131,2235) (3172,2146) (3213,2057) (3263,1977) (3313,1896)};
\draw[odash, otip] plot[smooth] coordinates {(3075,2868) (3040,2790) (2960,2745) (2895,2770) (2855,2846) (2832,2926) (2827,2975)};
\draw[odash, otip] plot[smooth] coordinates {(4029,3794) (4084,3669) (4160,3420) (4185,3150) (4150,2850) (4060,2520) (3950,2260) (3844,2173) (3761,2110) (3678,2039) (3595,1968) (3512,1910) (3452,1869)};
\draw[odash, otip] plot[smooth] coordinates {(3612,6294) (3800,6136) (4100,5800) (4380,5300) (4520,4700) (4540,4100) (4460,3500) (4300,3000) (4100,2650) (3893,2396) (3700,2200) (3580,2110) (3506,2059)};
\draw[odash, otip] plot[smooth] coordinates {(1046,2300) (960,2272) (835,2262) (700,2290) (580,2340) (495,2387) (447,2432)};
\draw[odash, otip] plot[smooth] coordinates {(1344,2318) (1203,2318) (1050,2350) (897,2400) (700,2520) (523,2673)};
\draw[odash] plot[smooth] coordinates {(1463,2256) (1300,2300) (1150,2340) (1000,2400) (870,2480) (743,2578)};
\draw[odash, otip] plot[smooth] coordinates {(840,1624) (880,1655) (954,1664) (1040,1640) (1100,1600) (1136,1559)};
\draw[odash, otip] plot[smooth] coordinates {(1579,3873) (1640,3925) (1720,3950) (1840,3948)};
\draw[odash, otip] plot[smooth] coordinates {(1029,5437) (1120,5420) (1220,5390) (1307,5336)};
\draw[odash, otip] plot[smooth] coordinates {(3161,3151) (3060,3156) (2960,3130) (2878,3098)};
\draw[odash, otip] plot[smooth] coordinates {(2896,3253) (2960,3232) (3044,3226) (3130,3235) (3192,3262)};
\draw[odash, otip] plot[smooth] coordinates {(3523,3397) (3460,3352) (3380,3338) (3286,3348)};
\draw[odash, otip] plot[smooth] coordinates {(2789,3394) (2720,3405) (2656,3408) (2560,3380) (2472,3323)};
\draw[odash, otip] plot[smooth] coordinates {(2641,3520) (2700,3490) (2773,3469)};
\draw[odash, otip] plot[smooth] coordinates {(4118,3816) (4080,3825) (4042,3837)};
\draw[odash, otip] plot[smooth] coordinates {(1694,3290) (1800,3268) (1949,3238) (2150,3190) (2360,3139) (2560,3080) (2771,3021)};
\draw[odash, otip] plot[smooth] coordinates {(1694,3300) (1800,3239) (1949,3094) (2150,2965) (2350,2926) (2554,2906) (2809,2938) (3003,2995) (3156,3081)};
\draw[odash] plot[smooth] coordinates {(1637,3321) (1625,3420) (1606,3500) (1530,3720) (1490,3915) (1486,4163) (1539,4329) (1640,4540) (1753,4702) (1790,4770)};
\draw[odash, otip] plot[smooth] coordinates {(1131,3764) (1204,3682) (1350,3580) (1512,3500) (1700,3420) (1900,3385) (2100,3400) (2250,3430) (2350,3470) (2452,3512)};
\draw[odash] plot[smooth] coordinates {(2569,3552) (2350,3672) (2035,3906) (1753,4205) (1673,4329) (1559,4536) (1465,4800) (1415,4950) (1424,5042)};
\draw[odash, otip] plot[smooth] coordinates {(3192,3569) (3049,3658) (2463,4080) (1900,4600) (1700,4800) (1539,4950) (1456,5045)};
\draw[odash] plot[smooth] coordinates {(1482,5180) (1800,5370) (2190,5492) (2573,5523) (2879,5506) (3300,5380) (3729,5150) (4050,4830) (4301,4473) (4400,4150) (4330,3800) (4100,3560) (3850,3450) (3642,3440)};
\end{tikzpicture}
\end{document}
